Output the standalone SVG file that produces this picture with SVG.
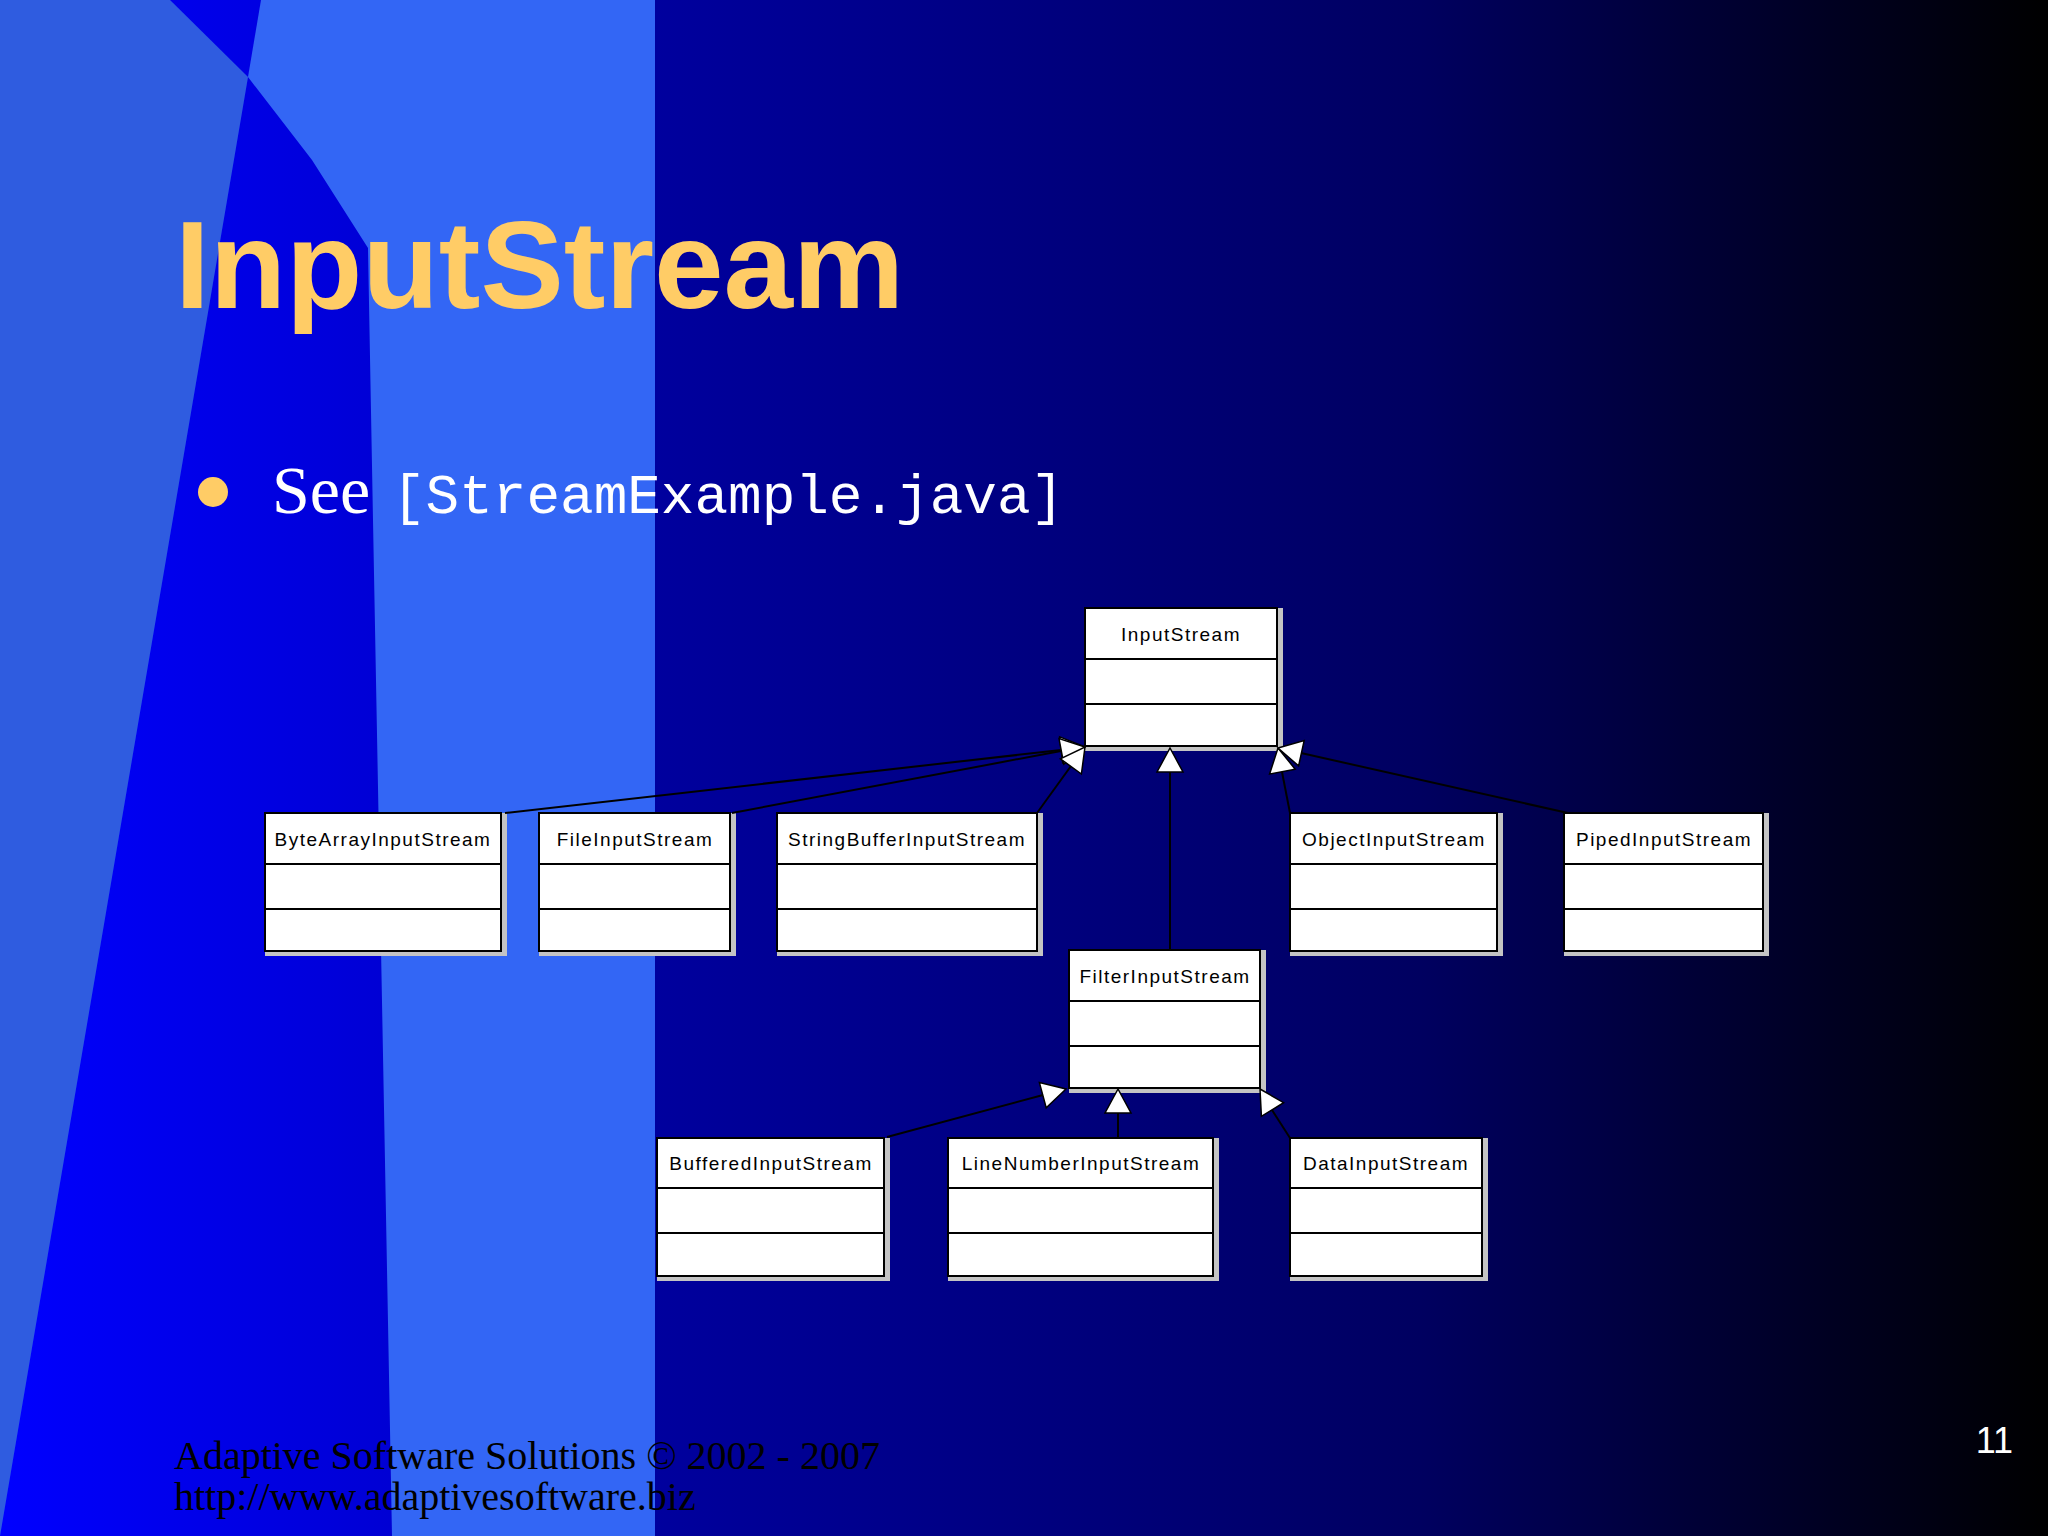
<svg xmlns="http://www.w3.org/2000/svg" width="2048" height="1536" viewBox="0 0 2048 1536">
<defs>
<linearGradient id="navy" gradientUnits="userSpaceOnUse" x1="655" y1="0" x2="2048" y2="0">
<stop offset="0" stop-color="#00009e"/>
<stop offset="0.55" stop-color="#000060"/>
<stop offset="1" stop-color="#000000"/>
</linearGradient>
<linearGradient id="stripe" gradientUnits="userSpaceOnUse" x1="0" y1="0" x2="390" y2="0">
<stop offset="0" stop-color="#0000ff"/>
<stop offset="1" stop-color="#0000d4"/>
</linearGradient>
<style>
.shadow{fill:#c4c4c4}
.box{fill:#ffffff;stroke:#000000;stroke-width:2}
.div{stroke:#000000;stroke-width:2}
.lbl{font-family:"Liberation Sans",Arial,sans-serif;font-size:19px;letter-spacing:1.5px;fill:#000000;text-anchor:middle}
.conn line{stroke:#000000;stroke-width:2}
.conn polygon{fill:#ffffff;stroke:#000000;stroke-width:1.5;stroke-linejoin:miter}
</style>
</defs>
<!-- background -->
<rect x="0" y="0" width="2048" height="1536" fill="url(#navy)"/>
<rect x="0" y="0" width="655" height="1536" fill="#3366f5"/>
<polygon points="0,0 170,0 248,77 0,1536" fill="#2f5ce0"/>
<polygon points="170,0 261,0 248,77" fill="url(#stripe)"/>
<polygon points="248,77 312,160 368,248 373,520 392,1536 0,1536" fill="url(#stripe)"/>

<!-- title and text -->
<text x="175" y="308" font-family="'Liberation Sans',Arial,sans-serif" font-weight="bold" font-size="125" fill="#ffcc66">InputStream</text>
<circle cx="213" cy="492" r="15" fill="#ffcc66"/>
<text x="272" y="513" font-family="'Liberation Serif','Times New Roman',serif" font-size="68" fill="#ffffff">See</text>
<text x="392" y="513" font-family="'Liberation Mono','Courier New',monospace" font-size="56" fill="#ffffff">[StreamExample.java]</text>

<!-- nodes -->
<g id="InputStream">
<rect class="shadow" x="1085" y="608" width="198" height="143"/>
<rect class="box" x="1085" y="608" width="192" height="138"/>
<line class="div" x1="1085" y1="659" x2="1277" y2="659"/>
<line class="div" x1="1085" y1="704" x2="1277" y2="704"/>
<text class="lbl" x="1181" y="641">InputStream</text>
</g>
<g id="ByteArrayInputStream">
<rect class="shadow" x="265" y="813" width="242" height="143"/>
<rect class="box" x="265" y="813" width="236" height="138"/>
<line class="div" x1="265" y1="864" x2="501" y2="864"/>
<line class="div" x1="265" y1="909" x2="501" y2="909"/>
<text class="lbl" x="383" y="846">ByteArrayInputStream</text>
</g>
<g id="FileInputStream">
<rect class="shadow" x="539" y="813" width="197" height="143"/>
<rect class="box" x="539" y="813" width="191" height="138"/>
<line class="div" x1="539" y1="864" x2="730" y2="864"/>
<line class="div" x1="539" y1="909" x2="730" y2="909"/>
<text class="lbl" x="635" y="846">FileInputStream</text>
</g>
<g id="StringBufferInputStream">
<rect class="shadow" x="777" y="813" width="266" height="143"/>
<rect class="box" x="777" y="813" width="260" height="138"/>
<line class="div" x1="777" y1="864" x2="1037" y2="864"/>
<line class="div" x1="777" y1="909" x2="1037" y2="909"/>
<text class="lbl" x="907" y="846">StringBufferInputStream</text>
</g>
<g id="ObjectInputStream">
<rect class="shadow" x="1290" y="813" width="213" height="143"/>
<rect class="box" x="1290" y="813" width="207" height="138"/>
<line class="div" x1="1290" y1="864" x2="1497" y2="864"/>
<line class="div" x1="1290" y1="909" x2="1497" y2="909"/>
<text class="lbl" x="1394" y="846">ObjectInputStream</text>
</g>
<g id="PipedInputStream">
<rect class="shadow" x="1564" y="813" width="205" height="143"/>
<rect class="box" x="1564" y="813" width="199" height="138"/>
<line class="div" x1="1564" y1="864" x2="1763" y2="864"/>
<line class="div" x1="1564" y1="909" x2="1763" y2="909"/>
<text class="lbl" x="1664" y="846">PipedInputStream</text>
</g>
<g id="FilterInputStream">
<rect class="shadow" x="1069" y="950" width="197" height="143"/>
<rect class="box" x="1069" y="950" width="191" height="138"/>
<line class="div" x1="1069" y1="1001" x2="1260" y2="1001"/>
<line class="div" x1="1069" y1="1046" x2="1260" y2="1046"/>
<text class="lbl" x="1165" y="983">FilterInputStream</text>
</g>
<g id="BufferedInputStream">
<rect class="shadow" x="657" y="1138" width="233" height="143"/>
<rect class="box" x="657" y="1138" width="227" height="138"/>
<line class="div" x1="657" y1="1188" x2="884" y2="1188"/>
<line class="div" x1="657" y1="1233" x2="884" y2="1233"/>
<text class="lbl" x="771" y="1170">BufferedInputStream</text>
</g>
<g id="LineNumberInputStream">
<rect class="shadow" x="948" y="1138" width="271" height="143"/>
<rect class="box" x="948" y="1138" width="265" height="138"/>
<line class="div" x1="948" y1="1188" x2="1213" y2="1188"/>
<line class="div" x1="948" y1="1233" x2="1213" y2="1233"/>
<text class="lbl" x="1081" y="1170">LineNumberInputStream</text>
</g>
<g id="DataInputStream">
<rect class="shadow" x="1290" y="1138" width="198" height="143"/>
<rect class="box" x="1290" y="1138" width="192" height="138"/>
<line class="div" x1="1290" y1="1188" x2="1482" y2="1188"/>
<line class="div" x1="1290" y1="1233" x2="1482" y2="1233"/>
<text class="lbl" x="1386" y="1170">DataInputStream</text>
</g>

<!-- connectors -->
<g id="connectors" class="conn">
<line x1="505" y1="813" x2="1061" y2="750"/>
<line x1="732" y1="813" x2="1061" y2="751"/>
<line x1="1037" y1="813" x2="1071" y2="766"/>
<line x1="1170" y1="772" x2="1170" y2="950"/>
<line x1="1290" y1="813" x2="1282" y2="772"/>
<line x1="1568" y1="813" x2="1301" y2="753"/>
<line x1="887" y1="1137" x2="1043" y2="1095"/>
<line x1="1118" y1="1113" x2="1118" y2="1138"/>
<line x1="1290" y1="1138" x2="1272" y2="1110"/>
<polygon points="1085,747 1062.7,762.6 1059.7,736.8"/>
<polygon points="1085,747 1063.8,764.2 1059,738.6"/>
<polygon points="1085,747 1081.4,774 1060.4,758.8"/>
<polygon points="1170,748 1157,772 1183,772"/>
<polygon points="1278,748 1295.2,769.2 1269.6,774"/>
<polygon points="1278,748 1304.2,740.5 1298.6,765.9"/>
<polygon points="1066,1089 1046.2,1107.8 1039.4,1082.6"/>
<polygon points="1118,1089 1105,1113 1131,1113"/>
<polygon points="1260,1089 1283.6,1102.7 1261.4,1116.3"/>
</g>

<!-- footer -->
<text x="174" y="1469" font-family="'Liberation Serif','Times New Roman',serif" font-size="40" fill="#000000">Adaptive Software Solutions © 2002 - 2007</text>
<text x="174" y="1510" font-family="'Liberation Serif','Times New Roman',serif" font-size="40" fill="#000000">http://www.adaptivesoftware.biz</text>
<text x="2013" y="1453" text-anchor="end" font-family="'Liberation Sans',Arial,sans-serif" font-size="36" fill="#ffffff">11</text>
</svg>
